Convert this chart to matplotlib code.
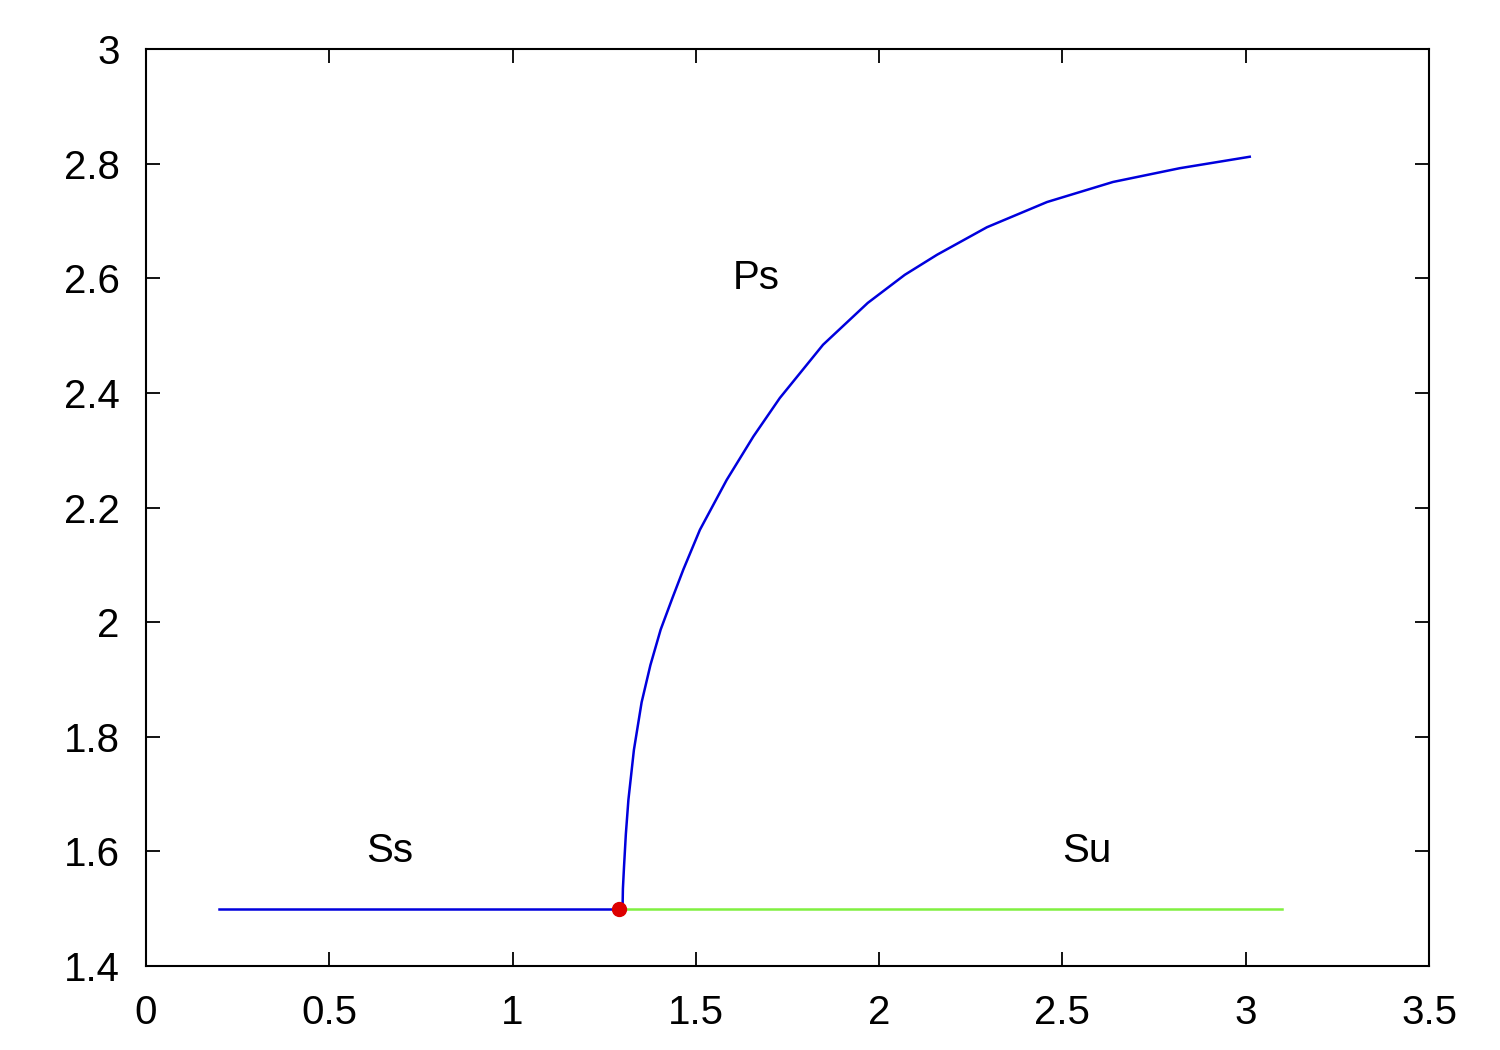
import matplotlib
matplotlib.use("Agg")
import matplotlib.pyplot as plt

plt.rcParams['font.family'] = ['Liberation Sans', 'DejaVu Sans']

# Stable steady state branch (Ss)
ss_x = [0.2, 1.3]
ss_y = [1.5, 1.5]
# Unstable steady state branch (Su)
su_x = [1.3, 3.1]
su_y = [1.5, 1.5]
# Stable periodic branch (Ps)
ps_x = [1.300, 1.301, 1.304, 1.309, 1.316, 1.331, 1.352, 1.376, 1.404, 1.436, 1.466,
        1.511, 1.584, 1.657, 1.729, 1.847, 1.969, 2.070, 2.158, 2.294, 2.458, 2.638,
        2.820, 3.011]
ps_y = [1.500, 1.535, 1.573, 1.630, 1.690, 1.777, 1.860, 1.925, 1.987, 2.042, 2.092,
        2.161, 2.248, 2.324, 2.391, 2.484, 2.557, 2.606, 2.641, 2.689, 2.733, 2.768,
        2.792, 2.812]
# Hopf point
hopf_x = [1.29]
hopf_y = [1.5]

labels = ["Ss", "Su", "Ps"]
label_x = [0.6, 2.5, 1.6]
label_y = [1.6, 1.6, 2.6]

fig = plt.figure(figsize=(15, 10.5), dpi=100)
ax = fig.add_axes([146/1500, 1 - 966/1050, (1429-146)/1500, (966-49)/1050])

ax.plot(ss_x, ss_y, color='#0000dd', lw=1.8)
ax.plot(su_x, su_y, color='#80f040', lw=1.8)
ax.plot(ps_x, ps_y, color='#0000dd', lw=1.8)
ax.plot(hopf_x, hopf_y, 'o', color='#dd0000', ms=10, zorder=5)

for t, x, y in zip(labels, label_x, label_y):
    ax.text(x, y, t, fontsize=29, ha='left', va='center')

ax.set_xlim(0, 3.5)
ax.set_ylim(1.4, 3.0)
ax.set_xticks([0, 0.5, 1, 1.5, 2, 2.5, 3, 3.5])
ax.set_xticklabels(["0", "0.5", "1", "1.5", "2", "2.5", "3", "3.5"])
ax.set_yticks([1.4, 1.6, 1.8, 2.0, 2.2, 2.4, 2.6, 2.8, 3.0])
ax.set_yticklabels(["1.4", "1.6", "1.8", "2", "2.2", "2.4", "2.6", "2.8", "3"])
ax.tick_params(direction='in', length=10, width=1.3, top=True, right=True,
               labelsize=29)
ax.tick_params(axis='y', pad=19)
ax.tick_params(axis='x', pad=20)
for s in ax.spines.values():
    s.set_linewidth(1.5)

fig.savefig("out.png", dpi=100)
